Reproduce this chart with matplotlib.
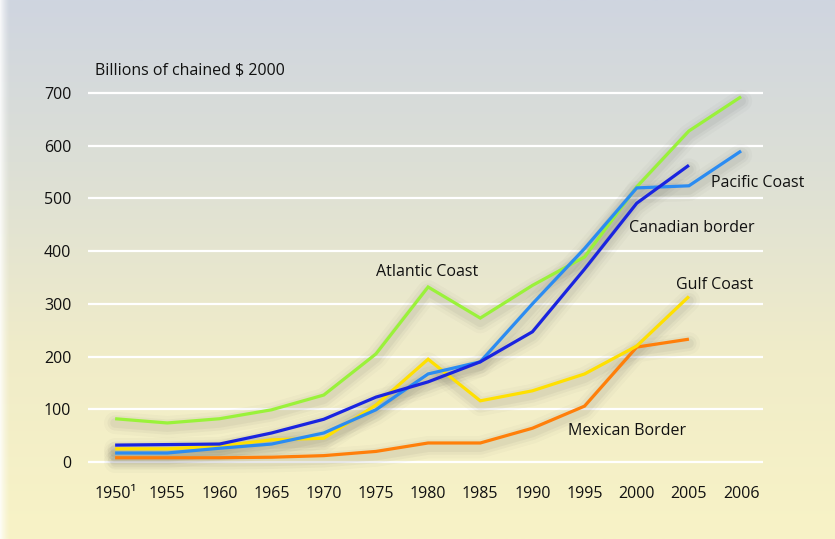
import matplotlib
matplotlib.use('Agg')
import matplotlib.pyplot as plt
import matplotlib.transforms as mtransforms
from matplotlib.colors import LinearSegmentedColormap
import numpy as np

plt.rcParams['font.family'] = ['Open Sans', 'DejaVu Sans']

# datos
years = ['1950\u00b9', '1955', '1960', '1965', '1970', '1975', '1980',
         '1985', '1990', '1995', '2000', '2005', '2006']
atlantic = [82, 74, 82, 99, 127, 205, 332, 273, 335, 389, 522, 628, 693]
pacific = [17, 17, 26, 34, 55, 99, 167, 190, 300, 405, 520, 524, 590]
canadian = [32, 33, 34, 55, 81, 123, 152, 190, 247, 366, 491, 563]
gulf = [25, 25, 30, 42, 45, 108, 195, 116, 135, 167, 220, 314]
mexican = [8, 8, 8, 9, 12, 20, 36, 36, 64, 106, 218, 233]
yticks = [0, 100, 200, 300, 400, 500, 600, 700]

series = [
    (mexican, '#ff7f0a'),
    (gulf, '#ffe000'),
    (atlantic, '#9af23a'),
    (pacific, '#2b8cf2'),
    (canadian, '#1a24e0'),
]

fig = plt.figure(figsize=(8.35, 5.39), dpi=100)

# fondo degradado
bg = fig.add_axes([0, 0, 1, 1])
cmap = LinearSegmentedColormap.from_list(
    'fondo', [(0.0, '#f8f3c6'), (0.35, '#f0ecc9'), (0.7, '#dcdfd6'), (1.0, '#cfd5e0')])
grad = np.linspace(0, 1, 256).reshape(-1, 1)
bg.imshow(grad, aspect='auto', cmap=cmap, origin='lower', extent=[0, 1, 0, 1])
# franja clara a la izquierda
alfa = np.linspace(0.9, 0, 20) ** 1.5
strip = np.ones((1, 20, 4))
strip[0, :, 3] = alfa
bg.imshow(strip, aspect='auto', extent=[0, 0.012, 0, 1])
bg.set_xlim(0, 1)
bg.set_ylim(0, 1)
bg.axis('off')

ax = fig.add_axes([88 / 835, 66.5 / 539, 675 / 835, 390 / 539])
ax.patch.set_alpha(0)
ax.set_xlim(-0.52, 12.42)
ax.set_ylim(-20, 720)

for y in yticks:
    ax.axhline(y, color='white', lw=1.6, zorder=1)

sombra = mtransforms.offset_copy(ax.transData, fig=fig, x=0, y=-3, units='points')
for vals, color in series:
    x = np.arange(len(vals))
    for w, a in [(16, 0.025), (11, 0.035), (7, 0.045)]:
        ax.plot(x, vals, color='#202020', lw=w, alpha=a, transform=sombra,
                solid_capstyle='round', solid_joinstyle='round', zorder=2)

for vals, color in series:
    x = np.arange(len(vals))
    ax.plot(x, vals, color=color, lw=2.3, zorder=3,
            solid_joinstyle='miter', solid_capstyle='butt')

ax.set_xticks(range(len(years)))
ax.set_xticklabels(years, fontsize=11.5)
ax.set_yticks(yticks)
ax.set_yticklabels([str(v) for v in yticks], fontsize=11.5)
ax.tick_params(axis='both', length=0, colors='#111111')
ax.tick_params(axis='y', pad=12)
ax.tick_params(axis='x', pad=10)
for s in ax.spines.values():
    s.set_visible(False)

fig.text(95 / 835, 1 - 70 / 539, 'Billions of chained $ 2000', fontsize=11.5,
         va='center', ha='left', color='#111111')

etiquetas = [
    ('Atlantic Coast', 5.0, 360),
    ('Pacific Coast', 11.43, 530),
    ('Canadian border', 9.85, 444),
    ('Gulf Coast', 10.76, 336),
    ('Mexican Border', 8.68, 58),
]
for txt, xi, yi in etiquetas:
    ax.text(xi, yi, txt, fontsize=11.5, va='center', ha='left', color='#111111', zorder=4)

fig.savefig('out.png', dpi=100)
